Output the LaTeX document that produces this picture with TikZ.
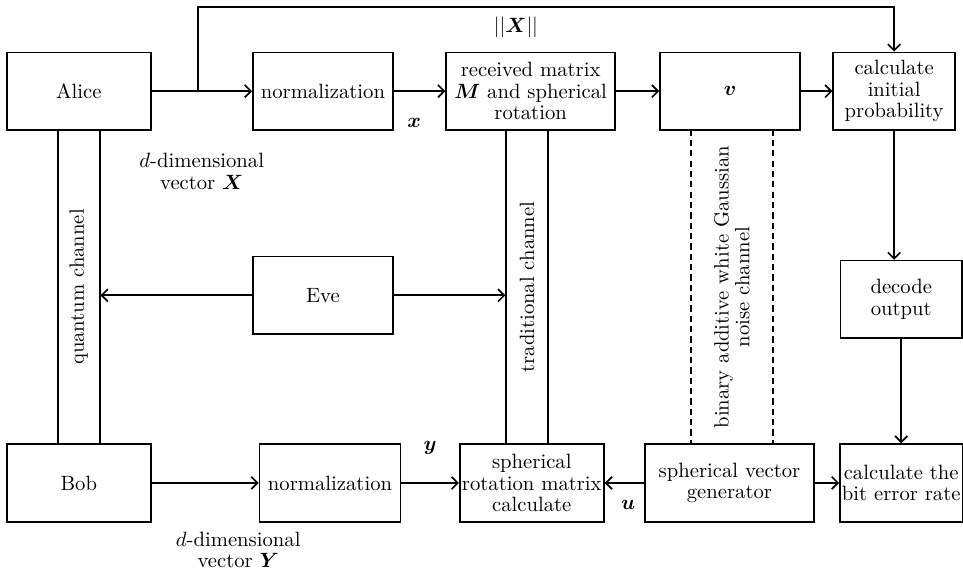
\documentclass[tikz,border=0pt]{standalone}
\usepackage{bm}
\usetikzlibrary{arrows.meta}

\newcommand{\lineW}{0.8pt}
\newcommand{\boxH}{1.32cm}
\newcommand{\chanW}{0.71cm}
\newcommand{\chanL}{5.34cm}
\newcommand{\topY}{-1.55}
\newcommand{\midY}{-5.02}
\newcommand{\botY}{-8.21}
\newcommand{\chanY}{-4.88}
\newcommand{\aliceX}{1.34}
\newcommand{\normX}{5.49}
\newcommand{\rcvX}{9.02}
\newcommand{\vecX}{12.41}
\newcommand{\probX}{15.20}
\newcommand{\outX}{15.32}

\tikzset{
  blockbox/.style={draw, line width=\lineW, minimum height=\boxH, inner sep=1pt,
    align=center, font=\fontsize{10}{10.5}\selectfont},
  chanbox/.style={draw, line width=\lineW, rotate=90, minimum width=\chanL,
    minimum height=\chanW, inner sep=0pt},
  flow/.style={line width=\lineW, -{Straight Barb[length=3pt,width=6pt]}},
  veclabel/.style={align=center, font=\fontsize{10}{10.5}\selectfont}
}

\begin{document}
\begin{tikzpicture}
        \useasboundingbox (0,0) rectangle (16.37,-9.76);

        % Sender side
        \node[blockbox, minimum width=2.45cm] (alice) at (\aliceX,\topY) {Alice};
        \node[blockbox, minimum width=2.38cm] (normA) at (\normX,\topY) {normalization};
        \node[blockbox, minimum width=2.87cm] (rcv) at (\rcvX,\topY) {received matrix\\ $\bm{M}$ and spherical\\ rotation};
        \node[blockbox, minimum width=2.38cm] (vbox) at (\vecX,\topY) {$\bm{v}$};
        \node[blockbox, minimum width=2.07cm] (calcInit) at (\probX,\topY) {calculate\\ initial\\ probability};

        % Channels and eavesdropper
        \node[chanbox] (qch) at (\aliceX,\chanY) {quantum channel};
        \node[chanbox] (tch) at (8.96,\chanY) {traditional channel};
        \node[rotate=90, minimum width=\chanL, minimum height=1.38cm, inner sep=0pt, align=center,
          font=\fontsize{10}{10}\selectfont] (awgn) at (12.44,\chanY) {binary additive white Gaussian\\ noise channel};
        \node[blockbox, minimum width=2.38cm] (eve) at (\normX,\midY) {Eve};
        \node[blockbox, minimum width=2.07cm] (decode) at (\outX,-5.09) {decode\\ output};

        % Receiver side
        \node[blockbox, minimum width=2.45cm] (bob) at (\aliceX,\botY) {Bob};
        \node[blockbox, minimum width=2.40cm] (normB) at (5.61,\botY) {normalization};
        \node[blockbox, minimum width=2.45cm] (srm) at (9.04,\botY) {spherical\\ rotation matrix\\ calculate};
        \node[blockbox, minimum width=2.87cm] (svg) at (12.40,\botY) {spherical vector\\ generator};
        \node[blockbox, minimum width=2.07cm] (ber) at (\outX,\botY) {calculate the\\ bit error rate};

        % Labels
        \node[veclabel] (normLbl) at (8.77,-0.46) {$||\bm{X}||$};
        \node[veclabel] (xLbl) at (7.04,-2.09) {$\bm{x}$};
        \node[veclabel] (dXLbl) at (3.43,-2.92) {$d$-dimensional\\ vector $\bm{X}$};
        \node[veclabel] (yLbl) at (7.31,-7.62) {$\bm{y}$};
        \node[veclabel] (uLbl) at (10.68,-8.59) {$\bm{u}$};
        \node[veclabel] (dYLbl) at (4.05,-9.35) {$d$-dimensional\\ vector $\bm{Y}$};

        % Draw top flow
        \coordinate (tap) at (3.37,\topY);
        \draw[flow] (alice.east) -- (normA.west);
        \draw[flow] (tap) -- ++(0,1.43) -| (calcInit.north);
        \draw[flow] (normA.east) -- (rcv.west);
        \draw[flow] (rcv.east) -- (vbox.west);
        \draw[flow] (vbox.east) -- (calcInit.west);
        \draw[flow] (calcInit.south) -- (calcInit.south |- decode.north);
        \draw[flow] (decode.south) -- (ber.north);

        % Draw eavesdropping
        \draw[flow] (eve.west) -- (eve.west -| qch.south);
        \draw[flow] (eve.east) -- (eve.east -| tch.north);

        % Draw noise channel borders
        \draw[line width=\lineW, dash pattern=on 3pt off 2pt] (awgn.north east) -- (awgn.north west);
        \draw[line width=\lineW, dash pattern=on 3pt off 2pt] (awgn.south east) -- (awgn.south west);

        % Draw bottom flow
        \draw[flow] (bob.east) -- (normB.west);
        \draw[flow] (normB.east) -- (srm.west);
        \draw[flow] (svg.west) -- (srm.east);
        \draw[flow] (svg.east) -- (ber.west);
    \end{tikzpicture}
\end{document}
